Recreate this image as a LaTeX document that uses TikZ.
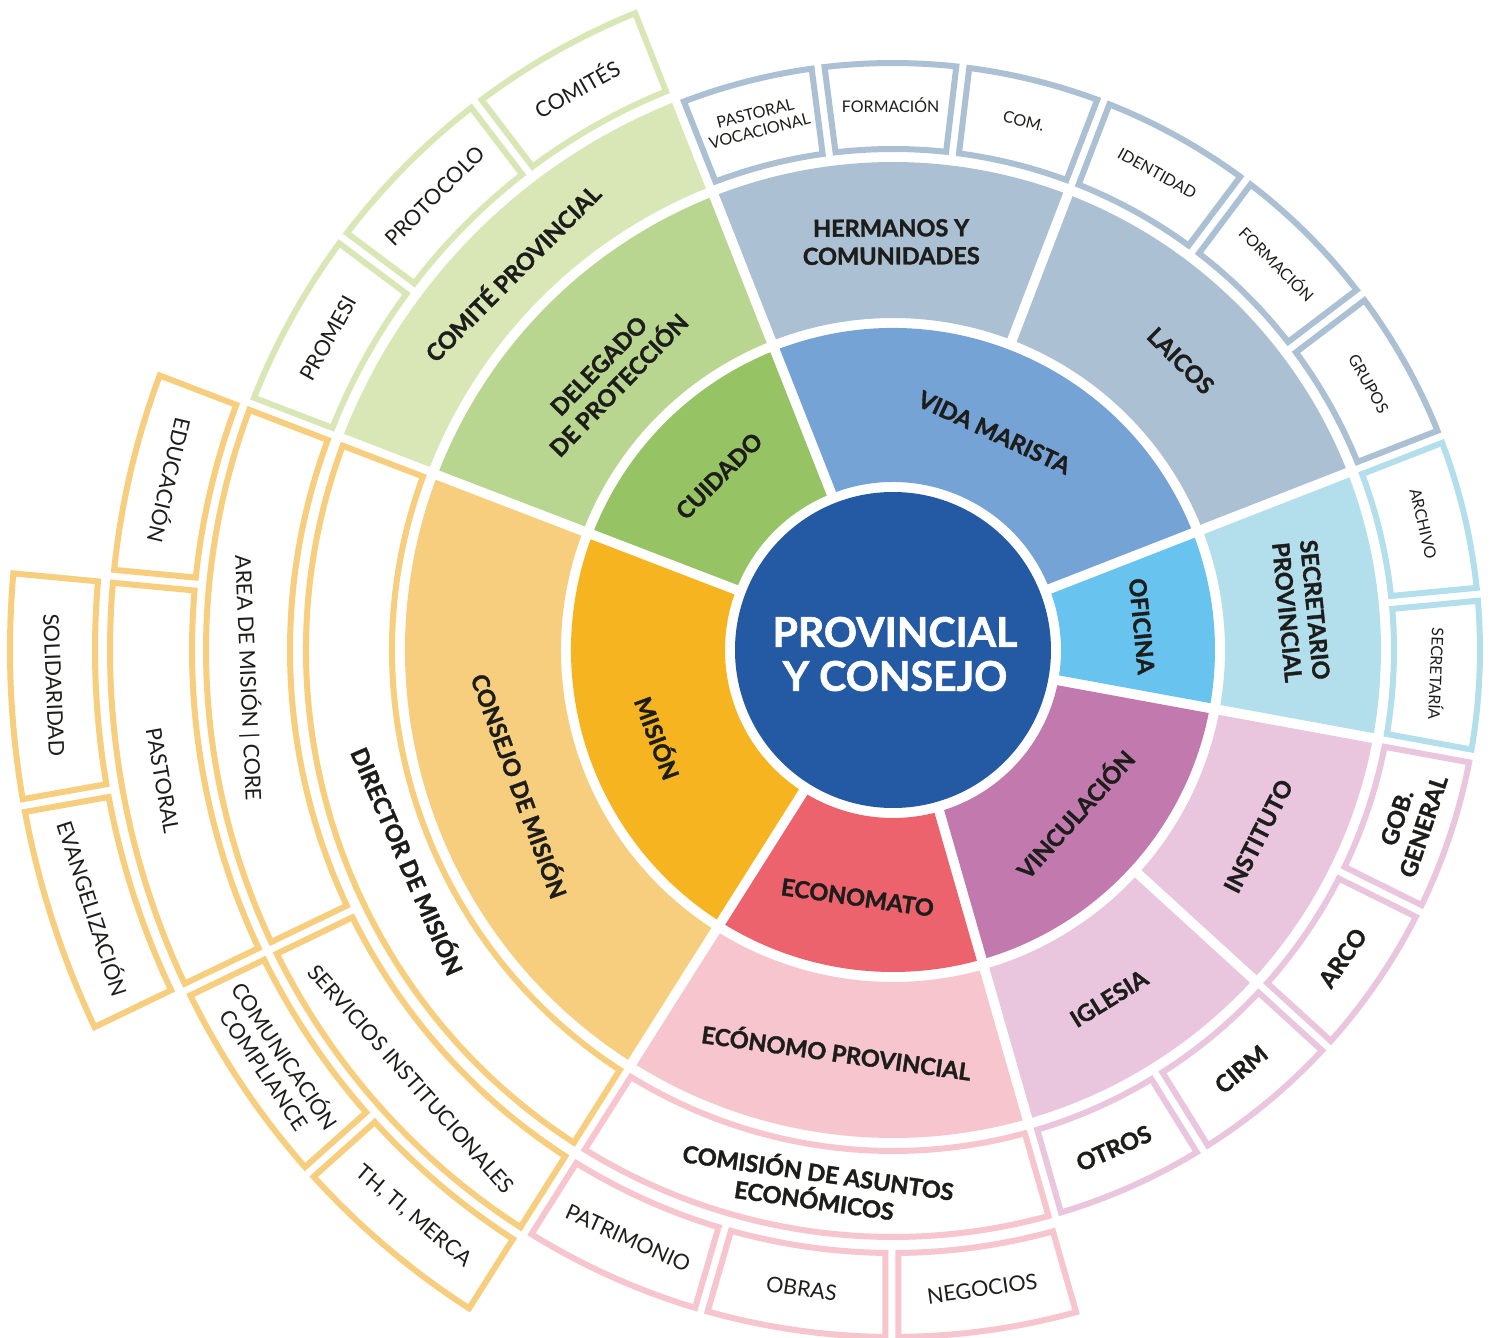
\documentclass[tikz,border=0pt]{standalone}
\usepackage{fontspec}
\setmainfont{Lato}[BoldFeatures={FakeBold=1.5}]
\definecolor{cCenter}{HTML}{2459A4}
\definecolor{cVida}{HTML}{76A3D6}
\definecolor{cOfi}{HTML}{68C4EF}
\definecolor{cVinc}{HTML}{C179AE}
\definecolor{cEcon}{HTML}{EC636D}
\definecolor{cMis}{HTML}{F6B520}
\definecolor{cCuid}{HTML}{96C363}
\definecolor{cGrey}{HTML}{ABC0D3}
\definecolor{cLBlue}{HTML}{B3DEEC}
\definecolor{cPinkL}{HTML}{E9C5DE}
\definecolor{cPink}{HTML}{F6C5CD}
\definecolor{cOrL}{HTML}{F6CE7E}
\definecolor{cGreenM}{HTML}{B9D690}
\definecolor{cGreenL}{HTML}{D9E6B6}
\definecolor{ink}{HTML}{1D1D1B}
% ring segment: style, start angle, end angle, inner r, outer r, half gap
\newcommand\ringseg[6]{%
  \pgfmathsetmacro\rsRi{#4}%
  \pgfmathsetmacro\rsRo{#5}%
  \pgfmathsetmacro\rsOA{#2+asin((#6)/\rsRo)}%
  \pgfmathsetmacro\rsOB{#3-asin((#6)/\rsRo)}%
  \pgfmathsetmacro\rsIA{#2+asin((#6)/\rsRi)}%
  \pgfmathsetmacro\rsIB{#3-asin((#6)/\rsRi)}%
  \path[#1] (\rsOA:\rsRo) arc[start angle=\rsOA, end angle=\rsOB, radius=\rsRo pt]
    -- (\rsIB:\rsRi) arc[start angle=\rsIB, end angle=\rsIA, radius=\rsRi pt] -- cycle;%
}
\newcommand\fseg[5]{\ringseg{fill=#1}{#2}{#3}{#4}{#5}{5}}
\newcommand\oseg[5]{\ringseg{draw=#1,line width=6pt,fill=white,line join=miter}{#2}{#3}{#4+3}{#5-3}{6.5}}
\newcommand\lab[6]{\node[#5,rotate={#2#4}] (#1) at (#2:#3) {#6};}
\begin{document}
\begin{tikzpicture}[x=1pt,y=1pt,
  labC/.style={text=white,font=\bfseries\fontsize{41}{44}\selectfont,align=center,inner sep=0pt},
  labB/.style={text=ink,font=\bfseries\fontsize{23.5}{28}\selectfont,align=center,inner sep=0pt},
  labR/.style={text=ink,font=\fontsize{21.5}{25}\selectfont,align=center,inner sep=0pt},
  labS/.style={text=ink,font=\fontsize{16}{18}\selectfont,align=center,inner sep=0pt}]
\useasboundingbox (-893,-688) rectangle (601,650);
\fill[white] (-893,-688) rectangle (601,650);
% centre
\fill[cCenter] (0,0) circle[radius=158pt];
% ring 1
\fseg{cVida}{21.3}{111.5}{168}{322}
\fseg{cCuid}{111.5}{159}{168}{322}
\fseg{cMis}{159}{237.7}{168}{322}
\fseg{cEcon}{237.7}{286}{168}{322}
\fseg{cVinc}{286}{349.6}{168}{322}
\fseg{cOfi}{349.6}{381.3}{168}{322}
% ring 2
\fseg{cGrey}{69}{111.5}{332}{488}
\fseg{cGrey}{21.3}{69}{332}{488}
\fseg{cLBlue}{349.6}{381.3}{332}{488}
\fseg{cPinkL}{317.6}{349.6}{332}{488}
\fseg{cPinkL}{286}{317.6}{332}{488}
\fseg{cPink}{237.7}{286}{332}{488}
\fseg{cOrL}{159}{237.7}{332}{488}
\fseg{cGreenM}{111.5}{159}{332}{488}
% ring 3
\fseg{cGreenL}{111.5}{159}{498}{590}
\oseg{cGrey}{97.33}{111.5}{498}{590}
\oseg{cGrey}{83.17}{97.33}{498}{590}
\oseg{cGrey}{69}{83.17}{498}{590}
\oseg{cGrey}{53.1}{69}{498}{590}
\oseg{cGrey}{37.2}{53.1}{498}{590}
\oseg{cGrey}{21.3}{37.2}{498}{590}
\oseg{cLBlue}{5.45}{21.3}{498}{590}
\oseg{cLBlue}{-10.4}{5.45}{498}{590}
\oseg{cPinkL}{-26.4}{-10.4}{498}{590}
\oseg{cPinkL}{-42.4}{-26.4}{498}{590}
\oseg{cPinkL}{-58.2}{-42.4}{498}{590}
\oseg{cPinkL}{-74}{-58.2}{498}{590}
\oseg{cPink}{237.7}{286}{498}{590}
\oseg{cOrL}{159}{237.7}{498}{590}
% ring 4
\oseg{cGreenL}{111.5}{127.33}{600}{690}
\oseg{cGreenL}{127.33}{143.17}{600}{690}
\oseg{cGreenL}{143.17}{159}{600}{690}
\oseg{cOrL}{159}{205.7}{600}{690}
\oseg{cOrL}{205.7}{237.7}{600}{690}
\oseg{cPink}{237.7}{253.8}{600}{690}
\oseg{cPink}{253.8}{269.9}{600}{690}
\oseg{cPink}{269.9}{286}{600}{690}
% ring 5
\oseg{cOrL}{159}{174.6}{698}{786}
\oseg{cOrL}{174.6}{205.7}{698}{786}
\oseg{cOrL}{205.7}{221.8}{698}{786}
\oseg{cOrL}{221.8}{237.7}{698}{786}
% ring 6
\oseg{cOrL}{174.6}{190.15}{795}{886}
\oseg{cOrL}{190.15}{205.7}{795}{886}
% labels
\node[labC] (tCentre) at (2,-4) {PROVINCIAL\\Y CONSEJO};
\lab{tVida}{65}{240}{-90}{labB}{VIDA MARISTA}
\lab{tOfi}{5.45}{250}{-90}{labB}{OFICINA}
\lab{tVinc}{-42}{244}{+90}{labB}{VINCULACIÓN}
\lab{tEcon}{-98.15}{250}{+90}{labB}{ECONOMATO}
\lab{tMis}{200.5}{250}{+90}{labB}{MISIÓN}
\lab{tCuid}{135}{246}{-90}{labB}{CUIDADO}
\lab{tHer}{90.25}{408}{-90}{labB}{HERMANOS Y\\COMUNIDADES}
\lab{tLai}{45.15}{408}{-90}{labB}{LAICOS}
\lab{tSec}{5.45}{410}{-90}{labB}{SECRETARIO\\PROVINCIAL}
\lab{tIns}{-27}{410}{+90}{labB}{INSTITUTO}
\lab{tIgl}{-58.2}{410}{+90}{labB}{IGLESIA}
\lab{tEco}{-98}{405}{+90}{labB}{ECÓNOMO PROVINCIAL}
\lab{tCons}{200}{396}{+90}{labB}{CONSEJO DE MISIÓN}
\lab{tDel}{136}{395}{-90}{labB}{DELEGADO\\DE PROTECCIÓN}
\lab{tCom}{135.25}{537}{-90}{labB}{COMITÉ PROVINCIAL}
\lab{tPV}{104.4}{545}{-90}{labS}{PASTORAL\\VOCACIONAL}
\lab{tFa}{90.25}{545}{-90}{labS}{FORMACIÓN}
\lab{tCm}{76.1}{545}{-90}{labS}{COM.}
\lab{tId}{61}{545}{-90}{labS}{IDENTIDAD}
\lab{tFb}{45.15}{545}{-90}{labS}{FORMACIÓN}
\lab{tGr}{29.25}{545}{-90}{labS}{GRUPOS}
\lab{tArc}{13.4}{545}{-90}{labS}{ARCHIVO}
\lab{tSe}{-2.5}{545}{-90}{labS}{SECRETARÍA}
\lab{tGob}{-18.4}{545}{+90}{labB}{GOB.\\GENERAL}
\lab{tArco}{-34.4}{545}{+90}{labB}{ARCO}
\lab{tCir}{-50.3}{545}{+90}{labB}{CIRM}
\lab{tOtr}{-66.1}{545}{+90}{labB}{OTROS}
\lab{tCae}{-98.15}{540}{+90}{labB}{COMISIÓN DE ASUNTOS\\ECONÓMICOS}
\lab{tDir}{203.5}{528}{+90}{labB}{DIRECTOR DE MISIÓN}
\lab{tCmt}{119.4}{645}{-90}{labR}{COMITÉS}
\lab{tPro}{135.25}{645}{-90}{labR}{PROTOCOLO}
\lab{tPrm}{151.1}{645}{-90}{labR}{PROMESI}
\lab{tArea}{182.5}{645}{+90}{labR}{AREA DE MISIÓN | CORE}
\lab{tServ}{221.7}{645}{+90}{labR}{SERVICIOS INSTITUCIONALES}
\lab{tPat}{245.75}{645}{+90}{labR}{PATRIMONIO}
\lab{tObr}{261.85}{645}{+90}{labR}{OBRAS}
\lab{tNeg}{277.95}{645}{+90}{labR}{NEGOCIOS}
\lab{tEdu}{166.8}{742}{+90}{labR}{EDUCACIÓN}
\lab{tPas}{190.15}{742}{+90}{labR}{PASTORAL}
\lab{tCC}{213.75}{742}{+90}{labR}{COMUNICACIÓN\\COMPLIANCE}
\lab{tTH}{229.75}{742}{+90}{labR}{TH, TI, MERCA}
\lab{tSol}{182.4}{840}{+90}{labR}{SOLIDARIDAD}
\lab{tEva}{197.9}{840}{+90}{labR}{EVANGELIZACIÓN}
\end{tikzpicture}
\end{document}
